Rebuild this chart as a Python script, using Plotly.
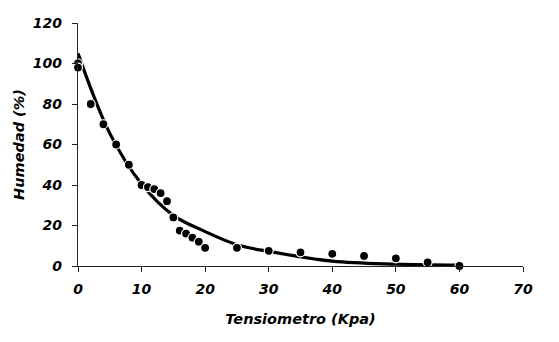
import plotly.graph_objects as go

# Measured points (Tensiometro kPa, Humedad %)
tension = [0, 0, 2, 4, 6, 8, 10, 11, 12, 13, 14, 15, 16, 17, 18, 19, 20,
           25, 30, 35, 40, 45, 50, 55, 60]
humedad = [100, 98, 80, 70, 60, 50, 40, 39, 38, 36, 32, 24, 17.5, 16, 14, 12, 9,
           9, 7.5, 6.7, 6, 5, 3.8, 1.8, 0]

# Trendline
trend_x = [0, 5, 10, 15, 20, 25, 30, 40, 50, 60]
trend_y = [105, 65.5, 40.5, 25, 17, 10.5, 7.2, 2.4, 0.9, 0.4]

x_ticks = [0, 10, 20, 30, 40, 50, 60, 70]
y_ticks = [0, 20, 40, 60, 80, 100, 120]

font_family = "'DejaVu Sans', sans-serif"

fig = go.Figure()
fig.add_trace(go.Scatter(x=trend_x, y=trend_y, mode="lines",
                         line=dict(color="black", width=3.2, shape="spline", smoothing=1.0),
                         hoverinfo="skip", showlegend=False, cliponaxis=False))
fig.add_trace(go.Scatter(x=tension, y=humedad, mode="markers",
                         marker=dict(color="black", size=9,
                                     line=dict(color="white", width=1.2)),
                         showlegend=False, cliponaxis=False))

fig.update_layout(
    width=551, height=334,
    margin=dict(l=70, r=36, t=15, b=76),
    paper_bgcolor="white", plot_bgcolor="white",
    font=dict(family=font_family, color="black"),
)
fig.update_xaxes(
    range=[0, 70], tickvals=x_ticks, ticktext=[str(v) for v in x_ticks],
    automargin=False,
    showgrid=False, zeroline=False, showline=True, linecolor="#222", linewidth=1.2,
    ticks="outside", ticklen=5, tickcolor="#222", ticklabelstandoff=5,
    tickfont=dict(size=14, family=font_family, weight="bold", style="italic"),
    title=dict(text="Tensiometro (Kpa)", standoff=17,
               font=dict(size=14.5, family=font_family, weight="bold", style="italic")),
)
fig.update_yaxes(
    range=[0, 120], tickvals=y_ticks, ticktext=[str(v) for v in y_ticks],
    automargin=False,
    showgrid=False, zeroline=False, showline=True, linecolor="#222", linewidth=1.2,
    ticks="outside", ticklen=5, tickcolor="#222", ticklabelstandoff=7,
    tickfont=dict(size=14, family=font_family, weight="bold", style="italic"),
    title=dict(text="Humedad (%)", standoff=4,
               font=dict(size=14.5, family=font_family, weight="bold", style="italic")),
)

fig.write_html("out.html")
